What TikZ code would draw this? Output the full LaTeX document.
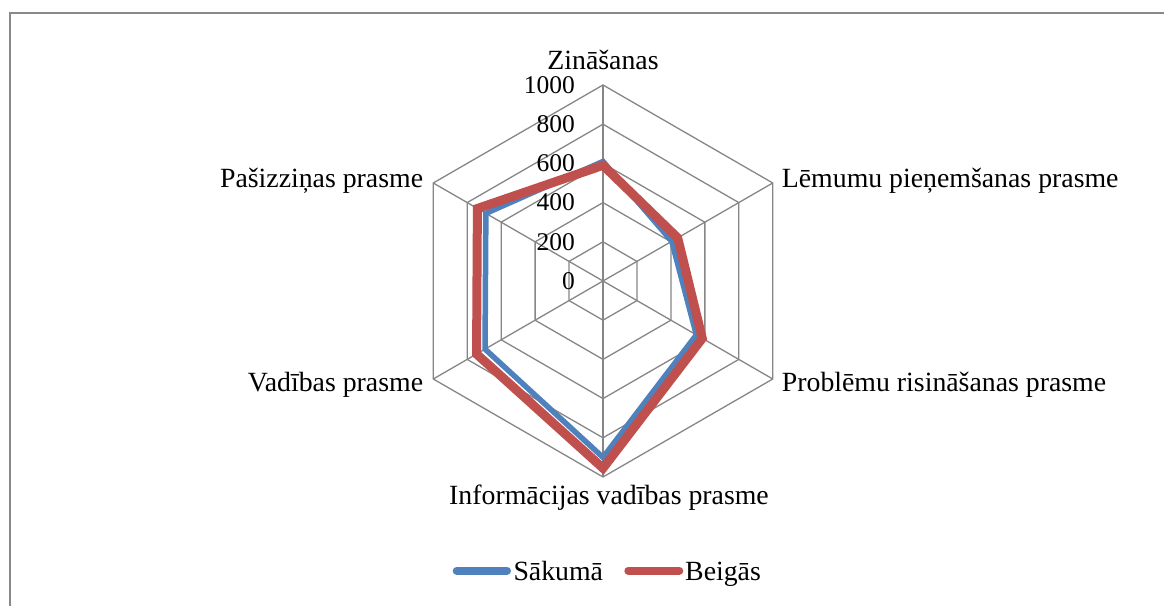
\documentclass[tikz,border=0pt]{standalone}
\usepackage{fontspec}
\setmainfont{Liberation Serif}
\definecolor{gridc}{HTML}{868686}
\definecolor{borderc}{HTML}{898989}
\definecolor{serA}{HTML}{4F81BD}
\definecolor{serB}{HTML}{C0504D}
\tikzset{
  gridline/.style={draw=gridc, line width=1.3pt},
  catlabel/.style={inner sep=0pt, font=\fontsize{27.8}{30}\selectfont},
  numlabel/.style={inner sep=0pt, anchor=east, font=\fontsize{25.5}{28}\selectfont},
  seriesA/.style={draw=serA, line width=5.5pt, line join=miter},
  seriesB/.style={draw=serB, line width=9pt, line join=miter},
  legline/.style={line width=8pt, line cap=round}
}
\begin{document}
\begin{tikzpicture}[x=1pt,y=1pt]
\useasboundingbox (0,0) rectangle (1164,605);
\clip (0,0) rectangle (1164,605);
\draw[draw=borderc, line width=2pt] (10,-20) rectangle (1190,591.5);
\coordinate (C) at (603,324);
% grid rings
\foreach \k in {1,...,5}{
  \pgfmathsetmacro{\r}{39.2*\k}
  \draw[gridline, shift={(C)}] (90:\r) -- (30:\r) -- (-30:\r) -- (-90:\r) -- (210:\r) -- (150:\r) -- cycle;
}
% spokes
\foreach \a in {90,30,-30,-90,210,150}{
  \draw[gridline] (C) -- ++(\a:196);
}
% axis numbers
\foreach \k/\v in {0/0,1/200,2/400,3/600,4/800,5/1000}{
  \node[numlabel] (n\v) at (575,{324+39.2*\k}) {\v};
}
% category labels
\node[catlabel, anchor=base] (zin) at (603,535) {Zināšanas};
\node[catlabel, anchor=base west] (lem) at (781.7,417.3) {Lēmumu pieņemšanas prasme};
\node[catlabel, anchor=base west] (prob) at (781.7,213.3) {Problēmu risināšanas prasme};
\node[catlabel, anchor=base] (inf) at (609,100) {Informācijas vadības prasme};
\node[catlabel, anchor=base east] (vad) at (423.3,213.3) {Vadības prasme};
\node[catlabel, anchor=base east] (pas) at (423.3,417.3) {Pašizziņas prasme};
% series
\begin{scope}[shift={(C)}]
\coordinate (a1) at (90:{196*0.610});
\coordinate (a2) at (30:{196*0.405});
\coordinate (a3) at (-30:{196*0.550});
\coordinate (a4) at (-90:{196*0.900});
\coordinate (a5) at (210:{196*0.695});
\coordinate (a6) at (150:{196*0.690});
\coordinate (b1) at (90:{196*0.590});
\coordinate (b2) at (30:{196*0.440});
\coordinate (b3) at (-30:{196*0.585});
\coordinate (b4) at (-90:{196*0.955});
\coordinate (b5) at (210:{196*0.745});
\coordinate (b6) at (150:{196*0.740});
\end{scope}
\draw[seriesA] (a1) -- (a2) -- (a3) -- (a4) -- (a5) -- (a6) -- cycle;
\draw[seriesB] (b1) -- (b2) -- (b3) -- (b4) -- (b5) -- (b6) -- cycle;
% legend
\coordinate (la1) at (456.7,34.3);
\coordinate (la2) at (507,34.3);
\draw[legline, serA] (la1) -- (la2);
\node[catlabel, anchor=base west] (legA) at (513.3,24.3) {Sākumā};
\coordinate (lb1) at (628.3,34.3);
\coordinate (lb2) at (679.3,34.3);
\draw[legline, serB] (lb1) -- (lb2);
\node[catlabel, anchor=base west] (legB) at (685,24.3) {Beigās};
\end{tikzpicture}
\end{document}
